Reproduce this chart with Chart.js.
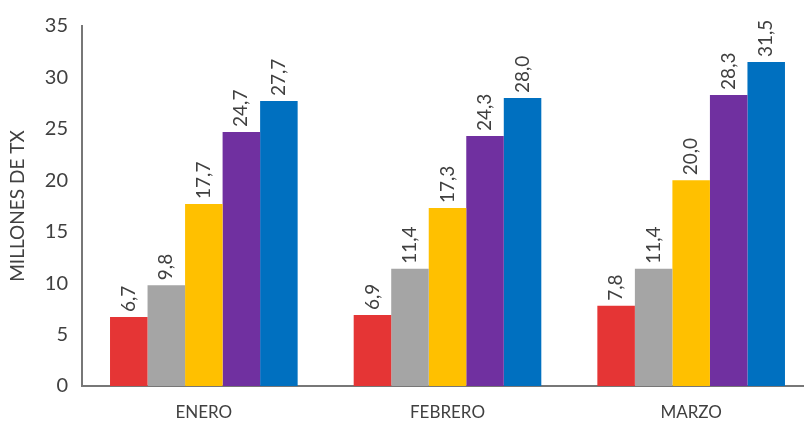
<html lang="es">
<head>
<meta charset="UTF-8">
<title>Millones de TX</title>
<script src="https://cdn.jsdelivr.net/npm/chart.js"></script>
<style>
  html, body { margin: 0; padding: 0; background: #fff; overflow: hidden; }
  .clip { width: 804px; height: 421px; overflow: hidden; position: relative; }
  #txChart { position: absolute; left: 0; top: 0; display: block; }
</style>
</head>
<body>
<div class="clip"><canvas id="txChart" width="813" height="421"></canvas></div>
<script>
// datos
const meses = ['ENERO', 'FEBRERO', 'MARZO'];
const serie1 = [6.7, 6.9, 7.8];
const serie2 = [9.8, 11.4, 11.4];
const serie3 = [17.7, 17.3, 20.0];
const serie4 = [24.7, 24.3, 28.3];
const serie5 = [27.7, 28.0, 31.5];
const colores = ['#E53535', '#A5A5A5', '#FFC000', '#7030A0', '#0070C0'];
const yTicks = [0, 5, 10, 15, 20, 25, 30, 35];

const textColor = '#404040';
const fontFam = 'Lato, "Open Sans", sans-serif';

// etiquetas de valor giradas encima de cada barra
const valueLabels = {
  id: 'valueLabels',
  afterDatasetsDraw(chart) {
    const ctx = chart.ctx;
    ctx.save();
    ctx.fillStyle = textColor;
    ctx.font = '19px ' + fontFam;
    ctx.textAlign = 'left';
    ctx.textBaseline = 'middle';
    chart.data.datasets.forEach((ds, i) => {
      chart.getDatasetMeta(i).data.forEach((bar, j) => {
        const txt = ds.data[j].toFixed(1).replace('.', ',');
        ctx.save();
        ctx.translate(bar.x, bar.y - 5);
        ctx.rotate(-Math.PI / 2);
        ctx.fillText(txt, 0, 0);
        ctx.restore();
      });
    });
    ctx.restore();
  }
};

const series = [serie1, serie2, serie3, serie4, serie5];

new Chart(document.getElementById('txChart'), {
  type: 'bar',
  data: {
    labels: meses,
    datasets: series.map((s, i) => ({
      label: 'S' + (i + 1),
      data: s,
      backgroundColor: colores[i],
      borderWidth: 0,
      categoryPercentage: 0.77,
      barPercentage: 1.0
    }))
  },
  options: {
    responsive: false,
    animation: false,
    layout: { padding: { top: 12, right: 0, left: 6, bottom: 0 } },
    plugins: {
      legend: { display: false },
      tooltip: { enabled: false }
    },
    scales: {
      x: {
        afterFit(axis) { axis.height = 35; },
        grid: { display: false, drawTicks: false },
        border: { display: true, color: '#777', width: 2 },
        ticks: { color: textColor, font: { family: fontFam, size: 17 }, padding: 16 }
      },
      y: {
        min: 0,
        max: 35,
        afterBuildTicks(axis) { axis.ticks = yTicks.map(v => ({ value: v })); },
        grid: { display: false, drawTicks: false },
        border: { display: true, color: '#777', width: 2 },
        ticks: { color: textColor, font: { family: fontFam, size: 20 }, padding: 14 },
        title: {
          display: true,
          text: 'MILLONES DE TX',
          color: textColor,
          font: { family: fontFam, size: 19 },
          padding: { top: 0, bottom: 2 }
        }
      }
    }
  },
  plugins: [valueLabels]
});
</script>
</body>
</html>
